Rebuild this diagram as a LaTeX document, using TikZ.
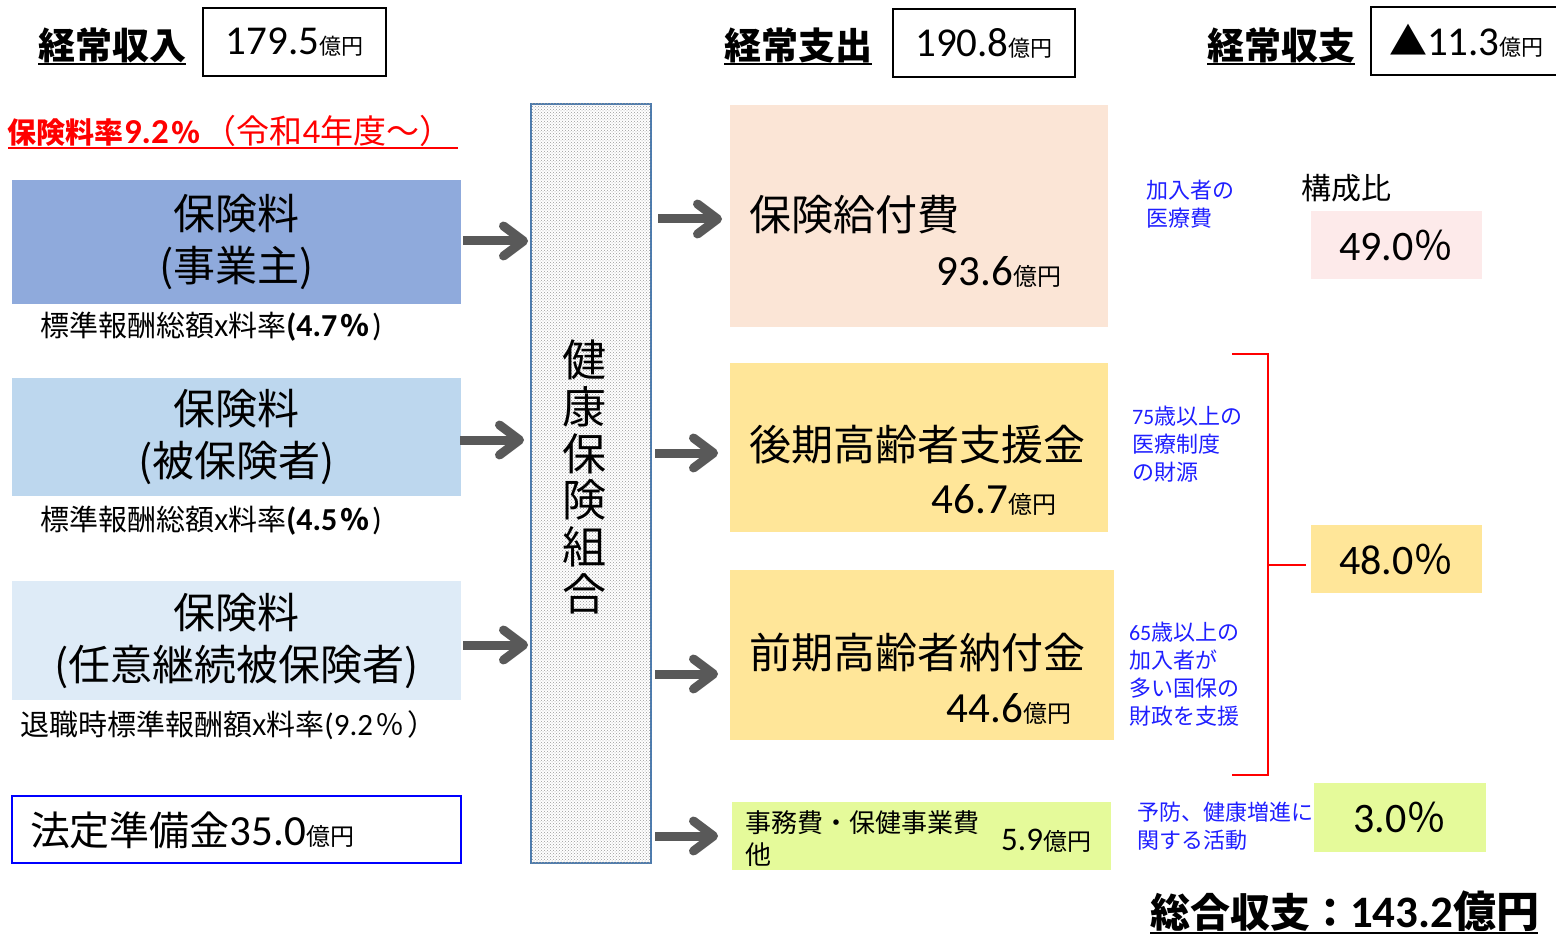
\documentclass[tikz,border=0pt]{standalone}
\usepackage{fontspec}
\setmainfont{Noto Sans CJK JP}
\newfontfamily\lat{Carlito}
\usetikzlibrary{arrows.meta,patterns}
\definecolor{arrowgray}{HTML}{595959}
\definecolor{cA}{HTML}{8FAADC}
\definecolor{cB}{HTML}{BDD7EE}
\definecolor{cC}{HTML}{DEEBF7}
\definecolor{peach}{HTML}{FBE5D6}
\definecolor{yel}{HTML}{FFE699}
\definecolor{grn}{HTML}{E5FA9A}
\definecolor{pnk}{HTML}{FDEAEA}
\definecolor{lblue}{HTML}{1F1FFF}
\definecolor{colborder}{HTML}{4A7AAE}
\newcommand\fsz[2]{\fontsize{#1}{#2}\selectfont}
\newcommand\pct{\makebox[1.2em]{％}}
\begin{document}
\begin{tikzpicture}[x=1pt,y=-1pt,
  every node/.style={inner sep=0pt, outer sep=0pt},
  hbox/.style={draw=black, line width=1.5pt, minimum height=68pt},
  head/.style={font=\fsz{37}{40}\bfseries},
  lbox/.style={minimum width=449pt, align=center, font=\fsz{42}{52}},
  note/.style={font=\fsz{29}{30}},
  blab/.style={anchor=west, align=left, text=lblue, font=\fsz{22}{28}},
  pbox/.style={minimum width=171pt, minimum height=68pt, font=\fsz{40}{40}},
  flow/.style={draw=arrowgray, line width=9pt, -{Straight Barb[length=20pt,width=30pt,round]}},
  brk/.style={draw=red, line width=1.5pt}
]
\useasboundingbox (0,0) rectangle (1556,936);

% headers
\node[head] (h1) at (112,45) {経常収入};
\draw[line width=2pt] (38,64) -- (186,64);
\node[hbox, minimum width=183pt] (v1) at (294.5,42) {{\lat\fsz{41}{41}179.5}{\fsz{22}{22}億円}};
\node[head] (h2) at (798,45) {経常支出};
\draw[line width=2pt] (724,64) -- (872,64);
\node[hbox, minimum width=182pt] (v2) at (984,43) {{\lat\fsz{41}{41}190.8}{\fsz{22}{22}億円}};
\node[head] (h3) at (1281,45) {経常収支};
\draw[line width=2pt] (1207,64) -- (1355,64);
\draw[line width=1.5pt] (1560,7) -- (1371,7) -- (1371,75) -- (1560,75);
\node[anchor=west] (v3) at (1389,41) {{\fsz{38}{38}▲}{\lat\fsz{41}{41}11.3}{\fsz{22}{22}億円}};

% premium rate
\node[anchor=west, text=red] (rate) at (8,131) {{\fsz{29}{30}\bfseries 保険料率{\lat\fsz{35}{35}9.2}\pct}{\fsz{33}{33}（令和{\lat\fsz{35}{35}4}年度〜）}};
\draw[red, line width=1.5pt] (8,148) -- (458,148);

% left boxes
\node[lbox, fill=cA, minimum height=124pt] (L1) at (236.5,242) {保険料\\(事業主)};
\node[note, anchor=west] (n1) at (40,327) {標準報酬総額x料率{\lat\bfseries\fsz{32}{32}(4.7}{\bfseries\pct}{\lat\fsz{32}{32})}};
\node[lbox, fill=cB, minimum height=118pt] (L2) at (236.5,437) {保険料\\(被保険者)};
\node[note, anchor=west] (n2) at (40,521) {標準報酬総額x料率{\lat\bfseries\fsz{32}{32}(4.5}{\bfseries\pct}{\lat\fsz{32}{32})}};
\node[lbox, fill=cC, minimum height=119pt] (L3) at (236.5,640.5) {保険料\\(任意継続被保険者)};
\node[note, anchor=west] (n3) at (20,725) {退職時標準報酬額x料率{\lat\fsz{31}{31}(9.2}\pct）};
\node[draw=blue, line width=1.5pt, minimum width=449pt, minimum height=67pt] (L4) at (236.5,829.5) {};
\node[anchor=west, font=\fsz{40}{40}] (t4) at (30,830) {法定準備金{\lat\fsz{43}{43}35.0}{\fsz{24}{24}億円}};

% central column
\node[draw=colborder, line width=2pt, fill=white, minimum width=120pt, minimum height=759pt,
  postaction={pattern=crosshatch dots, pattern color=gray!80}] (col) at (591,483.5) {};
\node[align=center, font=\fsz{44}{46.8}] (colt) at (584,477) {健\\康\\保\\険\\組\\合};

% right boxes
\node[fill=peach, minimum width=378pt, minimum height=222pt] (R1) at (919,216) {};
\node[anchor=west, font=\fsz{42}{42}] (r1t) at (749,215) {保険給付費};
\node[anchor=east, font=\fsz{24}{24}] (r1v) at (1061,272) {{\lat\fsz{43}{43}93.6}億円};
\node[fill=yel, minimum width=378pt, minimum height=169pt] (R2) at (919,447.5) {};
\node[anchor=west, font=\fsz{42}{42}] (r2t) at (749,445) {後期高齢者支援金};
\node[anchor=east, font=\fsz{24}{24}] (r2v) at (1056,500) {{\lat\fsz{43}{43}46.7}億円};
\node[fill=yel, minimum width=384pt, minimum height=170pt] (R3) at (922,655) {};
\node[anchor=west, font=\fsz{42}{42}] (r3t) at (749,653) {前期高齢者納付金};
\node[anchor=east, font=\fsz{24}{24}] (r3v) at (1071,709) {{\lat\fsz{43}{43}44.6}億円};
\node[fill=grn, minimum width=379pt, minimum height=68pt] (R4) at (921.5,836) {};
\node[anchor=west, align=left, font=\fsz{26}{32}] (r4t) at (745,839) {事務費・保健事業費\\他};
\node[anchor=east, font=\fsz{24}{24}] (r4v) at (1091,841) {{\lat\fsz{33}{33}5.9}億円};

% arrows
\coordinate (y1) at (0,241);
\coordinate (y2) at (0,440);
\coordinate (y3) at (0,645);
\draw[flow, shorten <=2pt, shorten >=3pt] (L1.east |- y1) -- (col.west |- y1);
\draw[flow, shorten <=-1pt, shorten >=7pt] (L2.east |- y2) -- (col.west |- y2);
\draw[flow, shorten <=2pt, shorten >=3pt] (L3.east |- y3) -- (col.west |- y3);
\coordinate (z1) at (0,219);
\coordinate (z2) at (0,453);
\coordinate (z3) at (0,674);
\coordinate (z4) at (0,836);
\draw[flow, shorten <=7pt, shorten >=8pt] (col.east |- z1) -- (R1.west |- z1);
\draw[flow, shorten <=4pt, shorten >=12pt] (col.east |- z2) -- (R2.west |- z2);
\draw[flow, shorten <=4pt, shorten >=12pt] (col.east |- z3) -- (R3.west |- z3);
\draw[flow, shorten <=4pt, shorten >=14pt] (col.east |- z4) -- (R4.west |- z4);

% blue notes
\node[blab] (b1) at (1146,204) {加入者の\\医療費};
\node[blab] (b2) at (1132,444) {{\lat 75}歳以上の\\医療制度\\の財源};
\node[blab] (b3) at (1129,674) {{\lat 65}歳以上の\\加入者が\\多い国保の\\財政を支援};
\node[blab] (b4) at (1137,826) {予防、健康増進に\\関する活動};

% ratios
\node[font=\fsz{30}{30}] (ratio) at (1346,188) {構成比};
\node[pbox, fill=pnk] (p1) at (1396.5,245) {{\lat\fsz{42}{42}49.0}％};
\node[pbox, fill=yel] (p2) at (1396.5,559) {{\lat\fsz{42}{42}48.0}％};
\node[pbox, fill=grn, minimum width=172pt, minimum height=69pt] (p3) at (1400,817.5) {{\lat\fsz{42}{42}3.0}％};

% bracket
\coordinate (k1) at (1232,354);
\coordinate (k2) at (1268,354);
\coordinate (k3) at (1268,775);
\coordinate (k4) at (1232,775);
\coordinate (km) at (1268,565);
\draw[brk] (k1) -- (k2) -- (k3) -- (k4);
\draw[brk, shorten >=5pt] (km) -- (p2.west |- km);

% total
\node[anchor=west, font=\fsz{40}{40}\bfseries] (tot) at (1150,911) {総合収支：{\lat\fsz{45}{45}143.2}{\fsz{43}{43}億円}};
\draw[line width=2pt] (1150,933) -- (1538,933);
\end{tikzpicture}
\end{document}
